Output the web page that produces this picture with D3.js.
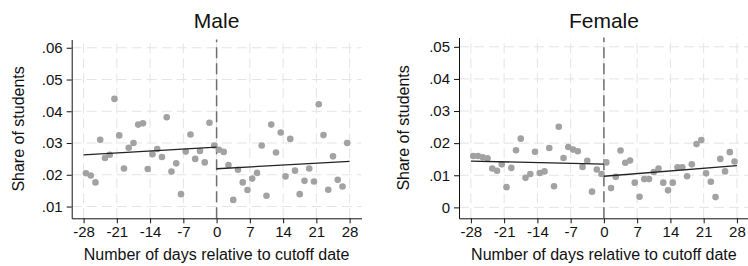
<!DOCTYPE html>
<html>
<head>
<meta charset="utf-8">
<script src="https://cdn.jsdelivr.net/npm/d3@7"></script>
<style>
  body { margin: 0; background: #fff; }
  svg text { font-family: "Liberation Sans", Arial, sans-serif; fill: #111; }
</style>
</head>
<body>
<svg width="748" height="266"></svg>
<script>
// daily bins, left and right of the cutoff
const daysLeft  = [-28,-27,-26,-25,-24,-23,-22,-21,-20,-19,-18,-17,-16,-15,-14,-13,-12,-11,-10,-9,-8,-7,-6,-5,-4,-3,-2,-1];
const daysRight = [0,1,2,3,4,5,6,7,8,9,10,11,12,13,14,15,16,17,18,19,20,21,22,23,24,25,26,27];

const maleLeft  = [0.0205,0.0198,0.0176,0.0310,0.0253,0.0263,0.0439,0.0324,0.0220,0.0285,0.0300,0.0358,0.0362,0.0218,
                   0.0265,0.0281,0.0256,0.0381,0.0210,0.0236,0.0139,0.0273,0.0327,0.0250,0.0275,0.0239,0.0364,0.0292];
const maleRight = [0.0279,0.0272,0.0231,0.0121,0.0216,0.0176,0.0152,0.0188,0.0206,0.0292,0.0134,0.0358,0.0270,0.0333,
                   0.0195,0.0313,0.0213,0.0139,0.0181,0.0220,0.0179,0.0422,0.0325,0.0153,0.0258,0.0184,0.0163,0.0300];
const femaleLeft  = [0.0160,0.0160,0.0156,0.0153,0.0121,0.0114,0.0134,0.0063,0.0123,0.0178,0.0214,0.0092,0.0104,0.0173,
                     0.0107,0.0112,0.0185,0.0066,0.0251,0.0154,0.0188,0.0180,0.0175,0.0126,0.0145,0.0049,0.0118,0.0104];
const femaleRight = [0.0140,0.0060,0.0095,0.0177,0.0139,0.0146,0.0077,0.0033,0.0088,0.0088,0.0110,0.0121,0.0077,0.0053,
                     0.0077,0.0125,0.0125,0.0097,0.0134,0.0197,0.0210,0.0106,0.0080,0.0032,0.0151,0.0112,0.0172,0.0143];

// linear fits on each side: [start, end]
const fitDaysLeft = [-28, 0], fitDaysRight = [0, 28];
const maleFitLeft = [0.0263, 0.0287], maleFitRight = [0.0219, 0.0242];
const femaleFitLeft = [0.0144, 0.0135], femaleFitRight = [0.0097, 0.0130];

const xTicks = [-28,-21,-14,-7,0,7,14,21,28];
const maleYTicks = [0.01,0.02,0.03,0.04,0.05,0.06];
const femaleYTicks = [0,0.01,0.02,0.03,0.04,0.05];

const svg = d3.select("svg");
const fmt = d => d === 0 ? "0" : d3.format(".2f")(d).replace(/^0/, "");

function panel(opt) {
  const x = d3.scaleLinear().domain([-30.5, 30.5]).range([opt.x0, opt.x0 + 289.8]);
  const y = d3.scaleLinear().domain(opt.yDomain).range([218.3, opt.yTop]);
  const g = svg.append("g");
  const [yb, yt] = y.range();
  const [xl, xr] = x.range();

  // grid
  g.append("g").selectAll("line").data(opt.yTicks).join("line")
    .attr("x1", xl).attr("x2", xr).attr("y1", d => y(d)).attr("y2", d => y(d))
    .attr("stroke", "#e4e4e4").attr("stroke-dasharray", "10,5");
  g.append("g").selectAll("line").data(xTicks).join("line")
    .attr("x1", d => x(d)).attr("x2", d => x(d)).attr("y1", yb).attr("y2", yt)
    .attr("stroke", "#e4e4e4").attr("stroke-dasharray", "10,5");

  // axes
  const ax = g.append("g").attr("transform", `translate(0,${yb})`)
    .call(d3.axisBottom(x).tickValues(xTicks).tickFormat(d => String(d))
      .tickSize(5).tickSizeOuter(0).tickPadding(3));
  const ay = g.append("g").attr("transform", `translate(${xl},0)`)
    .call(d3.axisLeft(y).tickValues(opt.yTicks).tickFormat(fmt).tickSize(5).tickSizeOuter(0).tickPadding(4));
  [ax, ay].forEach(a => {
    a.selectAll("text").style("font-size", "15px").attr("fill", "#111");
    a.selectAll("line, path").attr("stroke", "#111");
  });

  // cutoff line
  g.append("line").attr("x1", x(0)).attr("x2", x(0)).attr("y1", yb).attr("y2", yt)
    .attr("stroke", "#6e6e6e").attr("stroke-width", 1.5).attr("stroke-dasharray", "11,5");

  // points (plotted at the middle of each daily bin)
  const pts = daysLeft.map((d, i) => [d, opt.left[i]]).concat(daysRight.map((d, i) => [d, opt.right[i]]));
  g.append("g").selectAll("circle").data(pts).join("circle")
    .attr("cx", d => x(d[0] + 0.5)).attr("cy", d => y(d[1])).attr("r", 3.3)
    .attr("fill", "#a2a2a2");

  // fits
  const line = d3.line().x(d => x(d[0])).y(d => y(d[1]));
  [[fitDaysLeft, opt.fitLeft], [fitDaysRight, opt.fitRight]].forEach(([ds, vs]) => {
    g.append("path").datum(ds.map((d, i) => [d, vs[i]])).attr("d", line)
      .attr("fill", "none").attr("stroke", "#222").attr("stroke-width", 1.3);
  });

  // titles
  const cx = (xl + xr) / 2;
  g.append("text").attr("x", cx).attr("y", 28).attr("text-anchor", "middle")
    .style("font-size", "21px").text(opt.title);
  g.append("text").attr("x", cx).attr("y", 259.5).attr("text-anchor", "middle")
    .style("font-size", "16px").text("Number of days relative to cutoff date");
  g.append("text").attr("transform", `translate(${opt.yLabelX},${(yb + yt) / 2}) rotate(-90)`)
    .attr("text-anchor", "middle").style("font-size", "16px").text("Share of students");
}

panel({ title: "Male", x0: 71.7, yDomain: [0.0063, 0.0626], yTop: 39.5, yTicks: maleYTicks,
        left: maleLeft, right: maleRight, fitLeft: maleFitLeft, fitRight: maleFitRight, yLabelX: 23.5 });
panel({ title: "Female", x0: 459, yDomain: [-0.0034, 0.0529], yTop: 37.5, yTicks: femaleYTicks,
        left: femaleLeft, right: femaleRight, fitLeft: femaleFitLeft, fitRight: femaleFitRight, yLabelX: 409 });
</script>
</body>
</html>
